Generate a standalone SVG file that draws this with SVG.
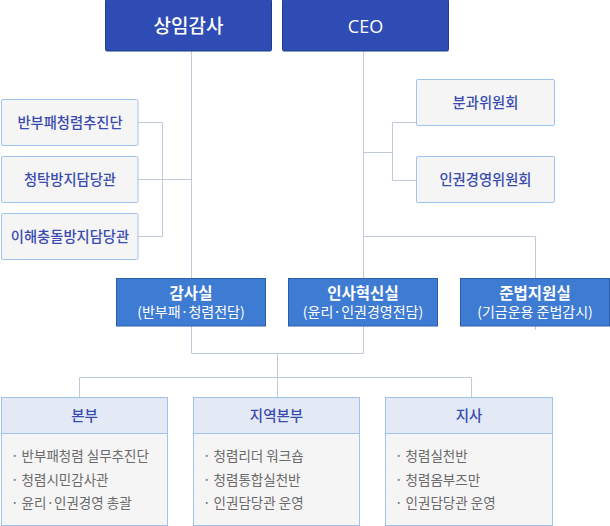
<svg xmlns="http://www.w3.org/2000/svg" width="610" height="526" viewBox="0 0 610 526">
<style>
text{font-family:"Noto Sans CJK KR","Noto Sans",sans-serif;text-anchor:middle}
.top{fill:#2f4bb4;stroke:#1d3f88;stroke-width:1}
.toptx{fill:#fff;font-size:19px;font-weight:500}
.side{fill:#f5f5f5;stroke:#9fc3ec;stroke-width:1}
.sidetx{fill:#3a4bb0;font-size:14.3px;font-weight:500}
.mid{fill:#3e7bd3;stroke:#2a5ea8;stroke-width:1}
.midtx1{fill:#fff;font-size:15.5px;font-weight:700}
.midtx2{fill:#fff;font-size:14px}
.hd{fill:#e3eaf5;stroke:#9fc3ec;stroke-width:1}
.bd{fill:#f5f5f5;stroke:#9fc3ec;stroke-width:1}
.hdtx{fill:#3a4bb0;font-size:14.5px;font-weight:500}
.item{fill:#6a6a6a;font-size:13.5px;text-anchor:start}
.conn{fill:none;stroke:#c0c9d9;stroke-width:1}
</style>
<g id="connectors" class="conn">
<path d="M191.5 51V353"/>
<path d="M363.5 51V353"/>
<path d="M138 122.5H162.5V236.5H138M138 179.5H191.5"/>
<path d="M363.5 152.5H392.5M416 122.5H392.5V180.5H416"/>
<path d="M363.5 236.5H535.5V330"/>
<path d="M191.5 353.5H363.5M277.5 353V397M79.5 397V377.5H471.5V397"/>
</g>
<g id="node-auditor">
<rect class="top" x="105.5" y="-1" width="166" height="52" rx="1.5"/>
<text class="toptx" x="188.5" y="33">상임감사</text>
</g>
<g id="node-ceo">
<rect class="top" x="282.5" y="-1" width="166" height="52" rx="1.5"/>
<text class="toptx" x="365.5" y="33" style="font-family:'Open Sans','Noto Sans',sans-serif;font-weight:400;font-size:18px">CEO</text>
</g>
<g id="node-anticorruption">
<rect class="side" x="1.5" y="99.5" width="136.5" height="46" rx="1.5"/>
<text class="sidetx" x="70" y="127.5">반부패청렴추진단</text>
</g>
<g id="node-solicitation">
<rect class="side" x="1.5" y="156.5" width="136.5" height="46" rx="1.5"/>
<text class="sidetx" x="70" y="184.5">청탁방지담당관</text>
</g>
<g id="node-conflict">
<rect class="side" x="1.5" y="213.5" width="136.5" height="46" rx="1.5"/>
<text class="sidetx" x="70" y="241.5">이해충돌방지담당관</text>
</g>
<g id="node-subcommittee">
<rect class="side" x="416.5" y="79.5" width="138" height="46" rx="1.5"/>
<text class="sidetx" x="485.5" y="107.5">분과위원회</text>
</g>
<g id="node-humanrights">
<rect class="side" x="416.5" y="156.5" width="138" height="46" rx="1.5"/>
<text class="sidetx" x="485.5" y="184.5">인권경영위원회</text>
</g>
<g id="node-audit-office">
<rect class="mid" x="116.5" y="278.5" width="149" height="47.5"/>
<text class="midtx1" x="191" y="298.5">감사실</text>
<text class="midtx2" x="191" y="316.5">(반부패·청렴전담)</text>
</g>
<g id="node-hr-innovation">
<rect class="mid" x="288.5" y="278.5" width="149" height="47.5"/>
<text class="midtx1" x="363" y="298.5">인사혁신실</text>
<text class="midtx2" x="363" y="316.5">(윤리·인권경영전담)</text>
</g>
<g id="node-compliance">
<rect class="mid" x="460.5" y="278.5" width="149" height="47.5"/>
<text class="midtx1" x="535" y="298.5">준법지원실</text>
<text class="midtx2" x="535" y="316.5">(기금운용 준법감시)</text>
</g>
<g id="node-hq">
<rect class="bd" x="1.5" y="397.5" width="166" height="128"/>
<rect class="hd" x="1.5" y="397.5" width="166" height="36"/>
<text class="hdtx" x="84.5" y="420.5">본부</text>
<text class="item" x="11" y="460.5">·  반부패청렴 실무추진단</text>
<text class="item" x="11" y="484.5">·  청렴시민감사관</text>
<text class="item" x="11" y="507.5">·  윤리·인권경영 총괄</text>
</g>
<g id="node-regional">
<rect class="bd" x="193.5" y="397.5" width="166" height="128"/>
<rect class="hd" x="193.5" y="397.5" width="166" height="36"/>
<text class="hdtx" x="276.5" y="420.5">지역본부</text>
<text class="item" x="203" y="460.5">·  청렴리더 워크숍</text>
<text class="item" x="203" y="484.5">·  청렴통합실천반</text>
<text class="item" x="203" y="507.5">·  인권담당관 운영</text>
</g>
<g id="node-branch">
<rect class="bd" x="385.5" y="397.5" width="167" height="128"/>
<rect class="hd" x="385.5" y="397.5" width="167" height="36"/>
<text class="hdtx" x="469" y="420.5">지사</text>
<text class="item" x="395" y="460.5">·  청렴실천반</text>
<text class="item" x="395" y="484.5">·  청렴옴부즈만</text>
<text class="item" x="395" y="507.5">·  인권담당관 운영</text>
</g>
</svg>
